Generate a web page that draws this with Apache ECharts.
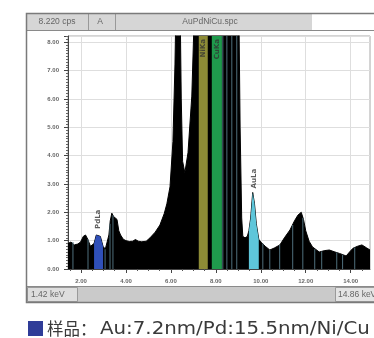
<!DOCTYPE html>
<html>
<head>
<meta charset="utf-8">
<script src="https://cdn.jsdelivr.net/npm/echarts@6/dist/echarts.min.js"></script>
<style>
  html, body { margin: 0; padding: 0; background: #fff; }
  #spec { width: 374px; height: 338px; }
</style>
</head>
<body>
<div id="spec"></div>
<script>
// spectrum (keV / cps)
const energy = [1.42, 1.55, 1.7, 1.85, 1.98, 2.1, 2.2, 2.3, 2.42, 2.5, 2.58, 2.68, 2.76, 2.86, 2.98, 3.08, 3.16, 3.24, 3.3, 3.37,
  3.45, 3.53, 3.6, 3.68, 3.76, 3.88, 4.0, 4.15, 4.3, 4.42, 4.55, 4.7, 4.9, 5.07, 5.3, 5.51, 5.7, 5.82, 5.96, 6.09,
  6.18, 6.24, 6.32, 6.4, 6.46, 6.52, 6.62, 6.76, 6.93, 7.02, 7.15, 7.24, 7.45, 7.64, 7.82, 8.05, 8.27, 8.5, 8.75, 9.0,
  9.08, 9.15, 9.2, 9.3, 9.4, 9.47, 9.55, 9.64, 9.72, 9.8, 9.91, 10.0, 10.2, 10.4, 10.6, 10.85, 11.05, 11.3, 11.5, 11.65,
  11.8, 11.9, 12.0, 12.15, 12.3, 12.6, 12.85, 13.05, 13.3, 13.5, 13.8, 13.95, 14.1, 14.3, 14.5, 14.7, 14.86]
const counts = [0.9, 0.95, 0.85, 0.88, 0.95, 1.15, 1.2, 1.05, 0.8, 0.74, 0.9, 1.2, 1.27, 1.15, 0.8, 0.7, 0.68, 1.2, 1.7, 1.97,
  1.85, 1.92, 1.75, 1.35, 1.2, 1.05, 1.0, 0.97, 0.98, 1.04, 0.98, 0.96, 0.98, 1.1, 1.3, 1.55, 1.95, 2.3, 2.9, 4.5,
  7.2, 10, 12, 10, 6, 3.8, 3.4, 4.1, 6.1, 8.5, 12, 16, 25, 18, 20, 30, 22, 14, 12, 11,
  5, 1.8, 1.15, 1.1, 1.15, 1.35, 1.8, 2.7, 2.3, 1.6, 1.05, 0.95, 0.8, 0.67, 0.74, 0.85, 1.1, 1.38, 1.7, 1.9,
  2.0, 1.75, 1.35, 0.98, 0.78, 0.6, 0.65, 0.67, 0.6, 0.55, 0.46, 0.6, 0.73, 0.8, 0.85, 0.75, 0.67]

// regions of interest
const roiNames = ['PdLa', 'NiKa', 'CuKa', 'AuLa']
const roiLow = [2.58, 7.24, 7.82, 9.47]
const roiHigh = [2.98, 7.64, 8.27, 9.91]

// thin marker lines inside the spectrum
const markerE = [1.64, 2.31, 3.07, 3.29, 3.42, 8.31, 8.49, 8.71, 8.93, 10.09, 10.4, 10.84, 11.42, 11.87, 12.4, 12.71, 13.38, 13.64, 14.18]
const markerH = [0.95, 1.05, 0.7, 1.6, 1.9, 30, 30, 30, 30, 0.9, 0.67, 0.85, 1.55, 1.8, 0.7, 0.62, 0.58, 0.5, 0.76]

const xMin = 1.42
const xMax = 14.86
const yMax = 8.22
const xTicks = [2, 4, 6, 8, 10, 12, 14]
const xMinorTicks = [1.5, 2.5, 3, 3.5, 4.5, 5, 5.5, 6.5, 7, 7.5, 8.5, 9, 9.5, 10.5, 11, 11.5, 12.5, 13, 13.5, 14.5]

const roiColors = ['#2f4fb8', '#8d8b36', '#1f9a4c', '#5ec6da']

const spectrum = energy.map((e, i) => [e, counts[i]])

const roiSeries = roiNames.map((name, i) => ({
  name,
  type: 'line',
  data: spectrum.filter(p => p[0] >= roiLow[i] && p[0] <= roiHigh[i]),
  symbol: 'none',
  lineStyle: { width: 0 },
  areaStyle: { color: roiColors[i], opacity: 1 },
  z: 4
}))

const roiLabels = roiNames.map((name, i) => {
  const inside = spectrum.filter(p => p[0] >= roiLow[i] && p[0] <= roiHigh[i])
  const peak = Math.max(...inside.map(p => p[1]))
  const clipped = peak >= yMax
  return {
    name,
    value: [(roiLow[i] + roiHigh[i]) / 2, clipped ? yMax : peak],
    label: clipped
      ? { position: 'bottom', distance: 3, align: 'right' }
      : { position: 'top', distance: 4, align: 'left' }
  }
})

const textStyleSmall = { fontFamily: 'Liberation Sans', fontSize: 8.5, fill: '#666' }

const chart = echarts.init(document.getElementById('spec'))
chart.setOption({
  backgroundColor: '#fff',
  animation: false,
  grid: { left: 68, right: 4, top: 36, bottom: 69, show: true, borderColor: '#a8a8a8', borderWidth: 1 },
  xAxis: [{
    type: 'value', min: xMin, max: xMax,
    axisLine: { onZero: false, lineStyle: { color: '#444' } },
    axisTick: { customValues: xTicks, length: 4, lineStyle: { color: '#444' } },
    axisLabel: { customValues: xTicks, formatter: v => v.toFixed(2), fontSize: 6, fontWeight: 'bold', color: '#666', margin: 9 },
    splitLine: { show: true, lineStyle: { color: '#dedede' } }
  }, {
    type: 'value', min: xMin, max: xMax, position: 'bottom',
    axisLine: { show: false },
    axisTick: { customValues: xMinorTicks, length: 2, lineStyle: { color: '#555' } },
    axisLabel: { show: false },
    splitLine: { show: false }
  }],
  yAxis: {
    type: 'value', min: 0, max: yMax, interval: 1,
    axisLine: { show: true, lineStyle: { color: '#444' } },
    axisTick: { show: true, length: 4, lineStyle: { color: '#444' } },
    minorTick: { show: true, splitNumber: 10, length: 2, lineStyle: { color: '#666' } },
    axisLabel: { formatter: v => v.toFixed(2), fontSize: 6, fontWeight: 'bold', color: '#666', margin: 9, showMaxLabel: false },
    splitLine: { lineStyle: { color: '#dedede' } }
  },
  series: [
    {
      name: 'spectrum',
      type: 'line',
      data: spectrum,
      symbol: 'none',
      lineStyle: { color: '#000', width: 1 },
      areaStyle: { color: '#000', opacity: 1 },
      z: 2
    },
    {
      name: 'markers',
      type: 'bar',
      data: markerE.map((e, i) => [e, markerH[i]]),
      barWidth: 1,
      itemStyle: { color: '#4f6f7c' },
      z: 3
    },
    ...roiSeries,
    {
      name: 'labels',
      type: 'scatter',
      data: roiLabels,
      symbolSize: 0,
      label: {
        show: true,
        formatter: p => p.name,
        rotate: 90,
        verticalAlign: 'middle',
        fontSize: 7,
        fontWeight: 'bold',
        fontFamily: 'DejaVu Sans',
        color: '#333'
      },
      z: 6
    }
  ],
  graphic: [
    // outer window frame
    { type: 'rect', shape: { x: 26.5, y: 13.5, width: 360, height: 289 }, style: { fill: 'none', stroke: '#7a7a7a', lineWidth: 1.5 }, z: 10 },
    // header bar
    { type: 'rect', shape: { x: 27, y: 14, width: 347, height: 16 }, style: { fill: '#d6d6d6' } },
    { type: 'rect', shape: { x: 312, y: 14, width: 62, height: 16 }, style: { fill: '#fff' } },
    { type: 'line', shape: { x1: 26, y1: 30.5, x2: 374, y2: 30.5 }, style: { stroke: '#8a8a8a', lineWidth: 1 } },
    { type: 'line', shape: { x1: 88.5, y1: 14, x2: 88.5, y2: 30 }, style: { stroke: '#999', lineWidth: 1 } },
    { type: 'line', shape: { x1: 115.5, y1: 14, x2: 115.5, y2: 30 }, style: { stroke: '#999', lineWidth: 1 } },
    { type: 'text', x: 57, y: 22, style: Object.assign({ text: '8.220 cps', align: 'center', verticalAlign: 'middle' }, textStyleSmall) },
    { type: 'text', x: 100, y: 22, style: Object.assign({ text: 'A', align: 'center', verticalAlign: 'middle' }, textStyleSmall) },
    { type: 'text', x: 210, y: 22, style: Object.assign({ text: 'AuPdNiCu.spc', align: 'center', verticalAlign: 'middle' }, textStyleSmall) },
    // status bar
    { type: 'rect', shape: { x: 27, y: 286, width: 347, height: 16 }, style: { fill: '#cacaca' } },
    { type: 'line', shape: { x1: 26, y1: 286.5, x2: 374, y2: 286.5 }, style: { stroke: '#8a8a8a', lineWidth: 1 } },
    { type: 'rect', shape: { x: 27.5, y: 287.5, width: 50, height: 14 }, style: { fill: '#dedede', stroke: '#9a9a9a', lineWidth: 1 } },
    { type: 'rect', shape: { x: 335.5, y: 287.5, width: 45, height: 14 }, style: { fill: '#e4e4e4', stroke: '#9a9a9a', lineWidth: 1 } },
    { type: 'text', x: 31, y: 295, style: Object.assign({ text: xMin.toFixed(2) + ' keV', align: 'left', verticalAlign: 'middle' }, textStyleSmall) },
    { type: 'text', x: 338, y: 295, style: Object.assign({ text: xMax.toFixed(2) + ' keV', align: 'left', verticalAlign: 'middle' }, textStyleSmall) },
    // caption
    { type: 'rect', shape: { x: 28, y: 321, width: 15, height: 15 }, style: { fill: '#2f3c98' } },
    { type: 'text', x: 47, y: 329, style: { text: '样品：', fontFamily: 'Noto Sans CJK SC', fontSize: 16.5, fill: '#3a3a3a', verticalAlign: 'middle' } },
    { type: 'text', x: 100, y: 329, scaleX: 1.1, style: { text: 'Au:7.2nm/Pd:15.5nm/Ni/Cu', fontFamily: 'DejaVu Sans', fontSize: 18, fill: '#3a3a3a', verticalAlign: 'middle' } }
  ]
})
</script>
</body>
</html>
